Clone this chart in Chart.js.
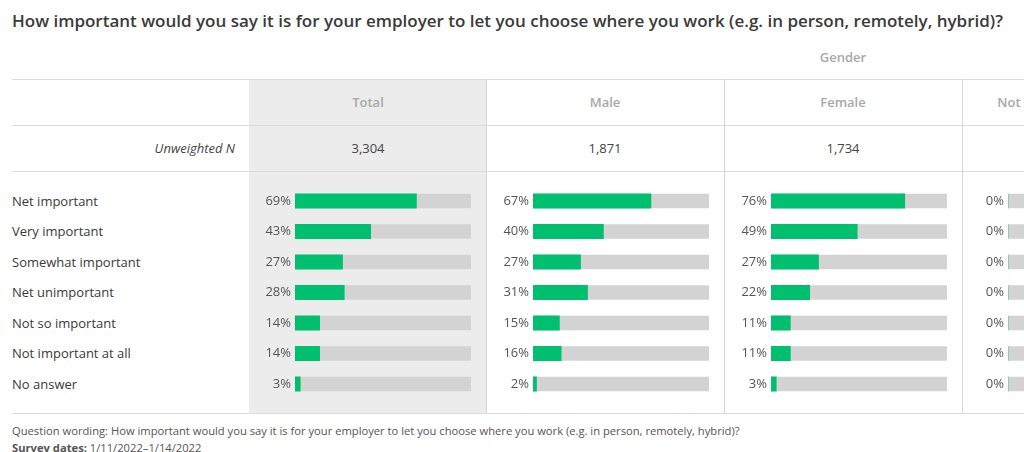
<!DOCTYPE html>
<html>
<head>
<meta charset="utf-8">
<script src="https://cdn.jsdelivr.net/npm/chart.js@4/dist/chart.umd.min.js"></script>
<style>
  html, body { margin: 0; padding: 0; background: #fff; }
  body { width: 1024px; height: 452px; overflow: hidden; position: relative; font-family: "Open Sans", "Noto Sans", sans-serif; color: #333; }
  .abs { position: absolute; white-space: nowrap; }
  #title { left: 12px; top: 9px; font-size: 17px; font-weight: 600; color: #3a3a3a; }
  .hline { position: absolute; left: 12px; right: 0; height: 1px; background: #dcdcdc; }
  .vline { position: absolute; top: 79px; height: 335px; width: 1px; background: #d6d6d6; }
  #totalBg { position: absolute; left: 249px; top: 79px; width: 237px; height: 335px; background: #ececec; }
  .head { position: absolute; top: 93px; font-size: 13px; font-weight: 600; color: #a8a8a8; transform: translateX(-50%); white-space: nowrap; }
  .nval { position: absolute; top: 139px; font-size: 13px; color: #444; transform: translateX(-50%); }
  #unw { right: 789px; top: 139px; font-size: 13px; font-style: italic; color: #444; }
  #rowLabels { position: absolute; left: 12px; top: 185.75px; }
  #rowLabels div { height: 30.5px; line-height: 30.5px; font-size: 13px; color: #3a3a3a; white-space: nowrap; }
  canvas { position: absolute; top: 171px; }
  #foot1 { left: 12px; top: 423px; font-size: 11.2px; color: #555; }
  #foot2 { left: 12px; top: 440px; font-size: 11.2px; color: #555; }
</style>
</head>
<body>
<div id="title" class="abs">How important would you say it is for your employer to let you choose where you work (e.g. in person, remotely, hybrid)?</div>
<div class="head" style="left:843px; top:48px;">Gender</div>
<div id="totalBg"></div>
<div class="hline" style="top:79px;"></div>
<div class="hline" style="top:125px;"></div>
<div class="hline" style="top:171px;"></div>
<div class="hline" style="top:413px;"></div>
<div class="vline" style="left:486px;"></div>
<div class="vline" style="left:724px;"></div>
<div class="vline" style="left:962px;"></div>
<div id="unw" class="abs">Unweighted N</div>
<div id="rowLabels"></div>
<canvas id="c0" width="222" height="243" style="left:249px;"></canvas>
<canvas id="c1" width="222" height="243" style="left:487px;"></canvas>
<canvas id="c2" width="222" height="243" style="left:725px;"></canvas>
<canvas id="c3" width="222" height="243" style="left:962px;"></canvas>
<div id="foot1" class="abs">Question wording: How important would you say it is for your employer to let you choose where you work (e.g. in person, remotely, hybrid)?</div>
<div id="foot2" class="abs"><b>Survey dates:</b> 1/11/2022–1/14/2022</div>

<script>
"use strict";

var categories = ['Net important', 'Very important', 'Somewhat important', 'Net unimportant', 'Not so important', 'Not important at all', 'No answer'];
var columns = ['Total', 'Male', 'Female', 'Not'];
var unweightedN = ['3,304', '1,871', '1,734', ''];
var totalPct = [69, 43, 27, 28, 14, 14, 3];
var malePct = [67, 40, 27, 31, 15, 16, 2];
var femalePct = [76, 49, 27, 22, 11, 11, 3];
var notPct = [0, 0, 0, 0, 0, 0, 0];

var series = [totalPct, malePct, femalePct, notPct];
var colCenters = [368, 605, 843, 1009];

// header + N row
columns.forEach(function (name, i) {
    var h = document.createElement('div');
    h.className = 'head';
    h.style.left = colCenters[i] + 'px';
    h.textContent = name;
    document.body.appendChild(h);
    if (unweightedN[i]) {
        var n = document.createElement('div');
        n.className = 'nval';
        n.style.left = colCenters[i] + 'px';
        n.textContent = unweightedN[i];
        document.body.appendChild(n);
    }
});

var rl = document.getElementById('rowLabels');
categories.forEach(function (c) {
    var d = document.createElement('div');
    d.textContent = c;
    rl.appendChild(d);
});

Chart.defaults.font.family = '"Open Sans", "Noto Sans", sans-serif';

// grey 0-100 track behind each bar
var trackPlugin = {
    id: 'track',
    beforeDatasetsDraw: function (chart) {
        var ctx = chart.ctx;
        var x = chart.scales.x;
        var meta = chart.getDatasetMeta(0);
        ctx.save();
        ctx.fillStyle = '#d3d3d3';
        meta.data.forEach(function (bar) {
            var h = bar.height;
            ctx.fillRect(x.getPixelForValue(0), bar.y - h / 2, x.getPixelForValue(100) - x.getPixelForValue(0), h);
        });
        ctx.restore();
    }
};

series.forEach(function (vals, i) {
    var ctx = document.getElementById('c' + i).getContext('2d');
    new Chart(ctx, {
        type: 'bar',
        data: {
            labels: categories,
            datasets: [{
                data: vals,
                backgroundColor: '#00bf6f',
                barThickness: 14.5
            }]
        },
        options: {
            indexAxis: 'y',
            responsive: false,
            animation: false,
            layout: { padding: { top: 14.75, bottom: 14.75, left: 0, right: 0 } },
            plugins: { legend: { display: false }, tooltip: { enabled: false } },
            scales: {
                x: { min: 0, max: 100, display: false },
                y: {
                    grid: { display: false, drawTicks: false },
                    border: { display: false },
                    ticks: {
                        padding: 4,
                        color: '#555',
                        font: { size: 13 },
                        callback: function (v, idx) { return vals[idx] + '%'; }
                    },
                    afterFit: function (s) { s.width = 46; }
                }
            }
        },
        plugins: [trackPlugin]
    });
});
</script>
</body>
</html>
